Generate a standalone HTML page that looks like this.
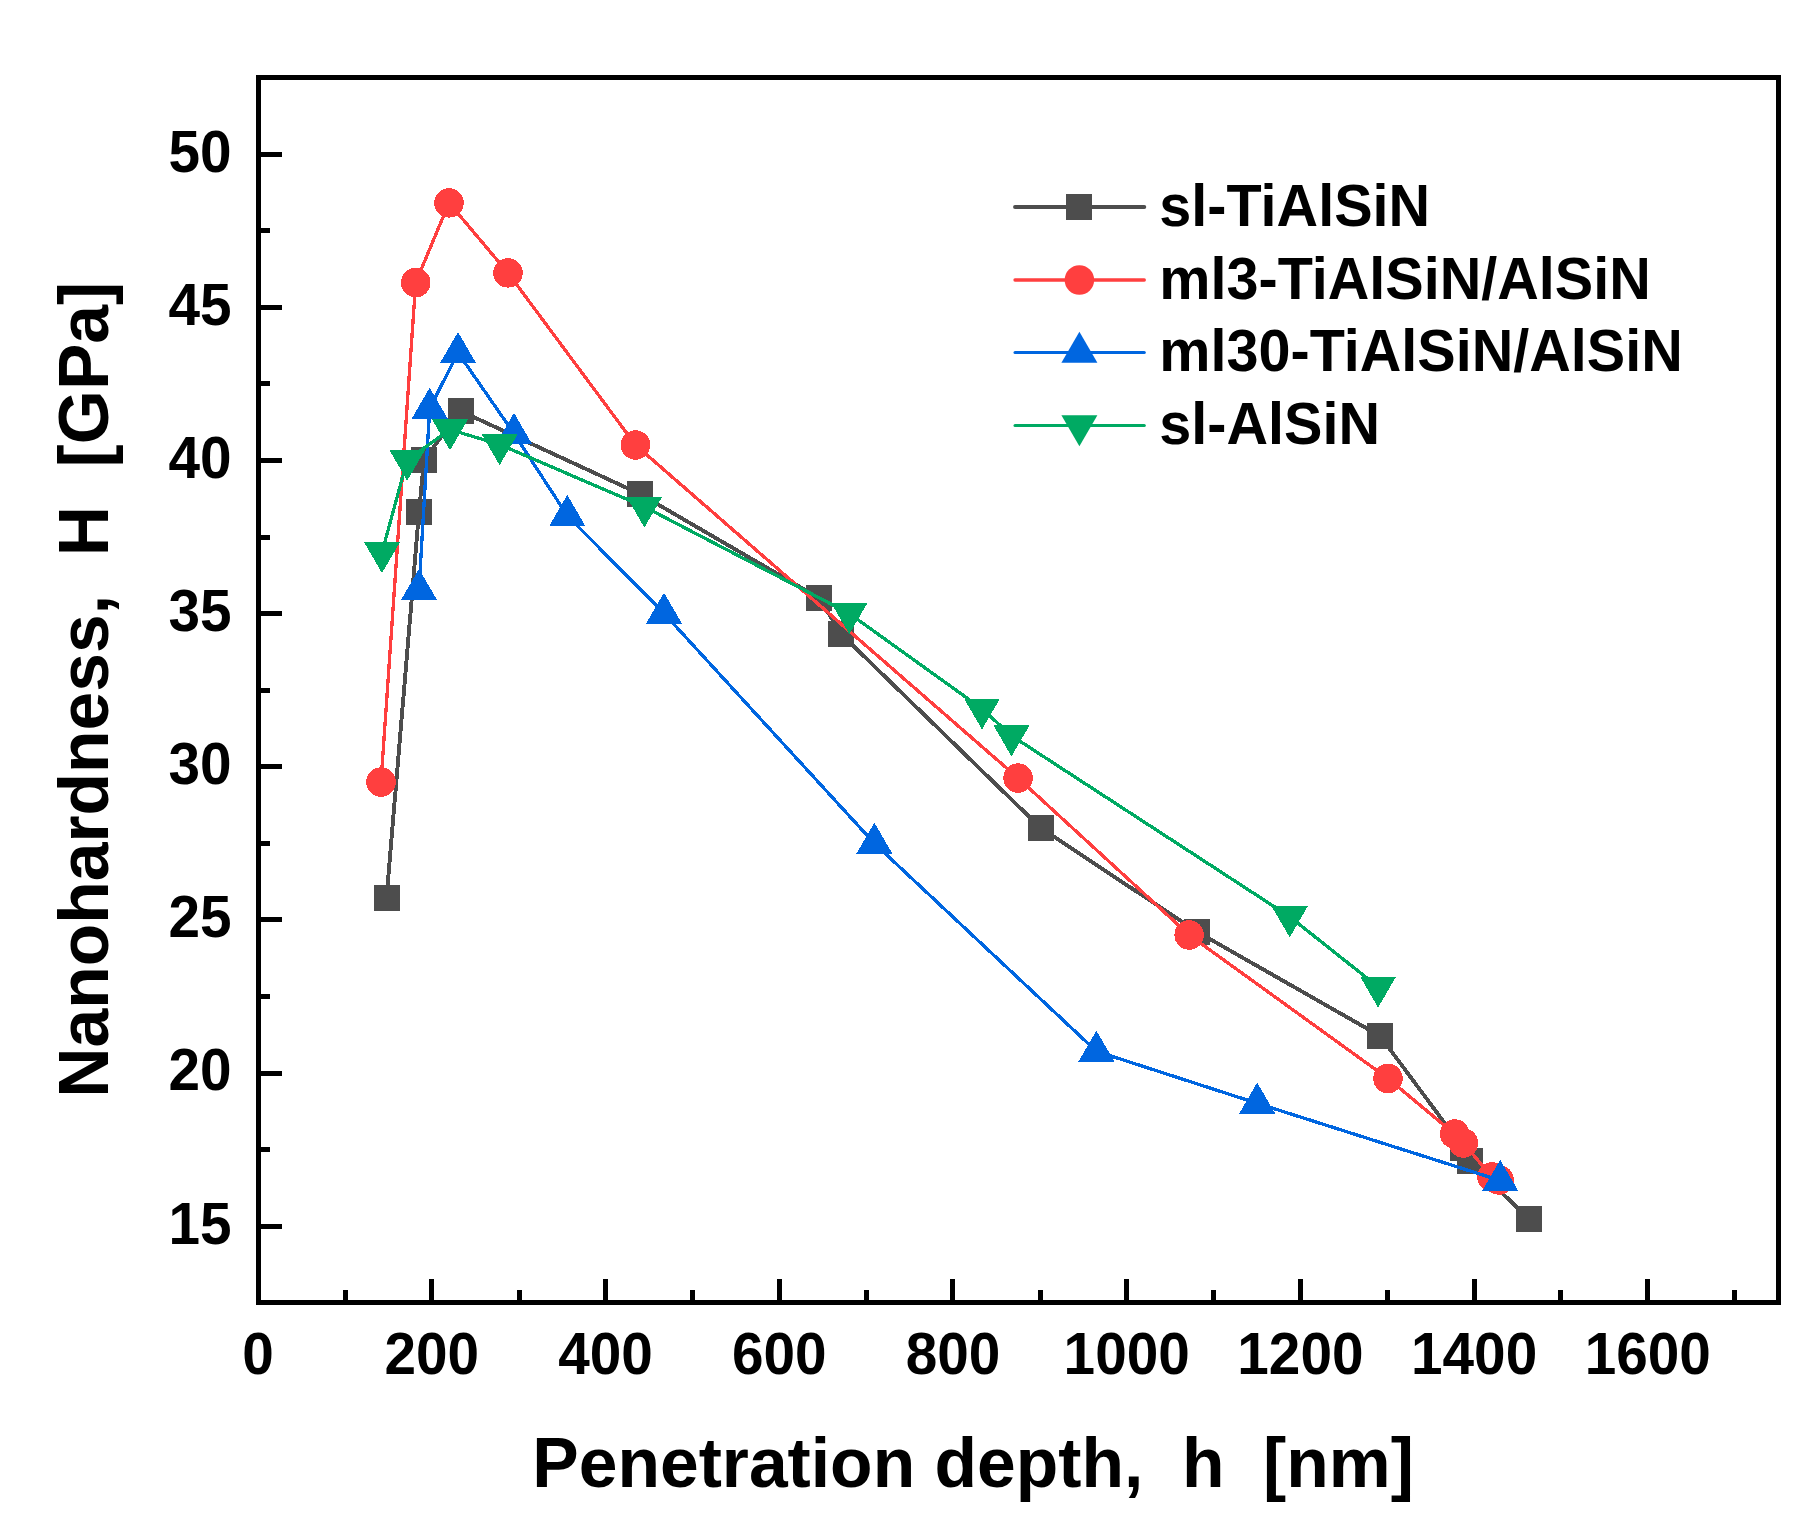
<!DOCTYPE html>
<html lang="en"><head><meta charset="utf-8"><title>Nanohardness vs penetration depth</title>
<style>
html,body{margin:0;padding:0;background:#fff;}
body{width:1817px;height:1522px;overflow:hidden;}
svg{display:block;}
text{font-family:"Liberation Sans",Arial,Helvetica,sans-serif;font-weight:bold;fill:#000;}
.tick{font-size:58px;}
.axl{font-size:70px;}
.leg{font-size:58px;}
</style></head><body>
<svg width="1817" height="1522" viewBox="0 0 1817 1522">
<rect x="0" y="0" width="1817" height="1522" fill="#fff"/>
<g id="series" shape-rendering="crispEdges">
<polyline fill="none" stroke="#4d4d4d" stroke-width="3.9" stroke-linejoin="round" stroke-linecap="round" points="386.5,898.0 419.0,512.4 424.0,460.0 460.5,411.0 640.0,494.0 819.0,598.0 841.5,634.4 1040.6,827.8 1197.5,932.0 1380.1,1036.0 1463.4,1148.3 1469.7,1161.2 1529.1,1219.4"/>
<rect x="374" y="885" width="26" height="26" fill="#4d4d4d"/>
<rect x="406" y="499" width="26" height="26" fill="#4d4d4d"/>
<rect x="411" y="447" width="26" height="26" fill="#4d4d4d"/>
<rect x="448" y="398" width="26" height="26" fill="#4d4d4d"/>
<rect x="627" y="481" width="26" height="26" fill="#4d4d4d"/>
<rect x="806" y="585" width="26" height="26" fill="#4d4d4d"/>
<rect x="828" y="621" width="26" height="26" fill="#4d4d4d"/>
<rect x="1028" y="815" width="26" height="26" fill="#4d4d4d"/>
<rect x="1184" y="919" width="26" height="26" fill="#4d4d4d"/>
<rect x="1367" y="1023" width="26" height="26" fill="#4d4d4d"/>
<rect x="1450" y="1135" width="26" height="26" fill="#4d4d4d"/>
<rect x="1457" y="1148" width="26" height="26" fill="#4d4d4d"/>
<rect x="1516" y="1206" width="26" height="26" fill="#4d4d4d"/>
<polyline fill="none" stroke="#ff3f3f" stroke-width="3.3" stroke-linejoin="round" stroke-linecap="round" points="381.0,782.1 415.7,282.6 449.0,202.9 508.0,272.9 635.5,445.0 1018.1,778.1 1189.2,935.0 1388.0,1078.5 1454.7,1134.0 1463.4,1143.0 1492.0,1177.0 1499.2,1180.0"/>
<circle cx="381.0" cy="782.1" r="14.75" fill="#ff3f3f"/>
<circle cx="415.7" cy="282.6" r="14.75" fill="#ff3f3f"/>
<circle cx="449.0" cy="202.9" r="14.75" fill="#ff3f3f"/>
<circle cx="508.0" cy="272.9" r="14.75" fill="#ff3f3f"/>
<circle cx="635.5" cy="445.0" r="14.75" fill="#ff3f3f"/>
<circle cx="1018.1" cy="778.1" r="14.75" fill="#ff3f3f"/>
<circle cx="1189.2" cy="935.0" r="14.75" fill="#ff3f3f"/>
<circle cx="1388.0" cy="1078.5" r="14.75" fill="#ff3f3f"/>
<circle cx="1454.7" cy="1134.0" r="14.75" fill="#ff3f3f"/>
<circle cx="1463.4" cy="1143.0" r="14.75" fill="#ff3f3f"/>
<circle cx="1492.0" cy="1177.0" r="14.75" fill="#ff3f3f"/>
<circle cx="1499.2" cy="1180.0" r="14.75" fill="#ff3f3f"/>
<polyline fill="none" stroke="#0066e0" stroke-width="3.3" stroke-linejoin="round" stroke-linecap="round" points="419.0,589.6 429.7,408.4 458.0,352.7 514.0,433.6 567.3,515.6 664.0,613.4 874.4,843.4 1096.4,1051.3 1257.2,1103.3 1500.2,1180.5"/>
<polygon points="419.0,568.9 401.0,599.9 437.0,599.9" fill="#0066e0"/>
<polygon points="429.7,387.7 411.7,418.7 447.7,418.7" fill="#0066e0"/>
<polygon points="458.0,332.0 440.0,363.0 476.0,363.0" fill="#0066e0"/>
<polygon points="514.0,412.9 496.0,443.9 532.0,443.9" fill="#0066e0"/>
<polygon points="567.3,494.9 549.3,525.9 585.3,525.9" fill="#0066e0"/>
<polygon points="664.0,592.7 646.0,623.7 682.0,623.7" fill="#0066e0"/>
<polygon points="874.4,822.7 856.4,853.7 892.4,853.7" fill="#0066e0"/>
<polygon points="1096.4,1030.6 1078.4,1061.6 1114.4,1061.6" fill="#0066e0"/>
<polygon points="1257.2,1082.6 1239.2,1113.6 1275.2,1113.6" fill="#0066e0"/>
<polygon points="1500.2,1159.8 1482.2,1190.8 1518.2,1190.8" fill="#0066e0"/>
<polyline fill="none" stroke="#00aa63" stroke-width="3.3" stroke-linejoin="round" stroke-linecap="round" points="382.0,552.4 407.2,460.0 450.0,429.6 499.6,444.5 644.4,506.8 849.3,613.5 982.0,708.8 1011.5,735.7 1289.7,916.7 1378.1,986.9"/>
<polygon points="382.0,573.1 364.0,542.1 400.0,542.1" fill="#00aa63"/>
<polygon points="407.2,480.7 389.2,449.7 425.2,449.7" fill="#00aa63"/>
<polygon points="450.0,450.3 432.0,419.3 468.0,419.3" fill="#00aa63"/>
<polygon points="499.6,465.2 481.6,434.2 517.6,434.2" fill="#00aa63"/>
<polygon points="644.4,527.5 626.4,496.5 662.4,496.5" fill="#00aa63"/>
<polygon points="849.3,634.2 831.3,603.2 867.3,603.2" fill="#00aa63"/>
<polygon points="982.0,729.5 964.0,698.5 1000.0,698.5" fill="#00aa63"/>
<polygon points="1011.5,756.4 993.5,725.4 1029.5,725.4" fill="#00aa63"/>
<polygon points="1289.7,937.4 1271.7,906.4 1307.7,906.4" fill="#00aa63"/>
<polygon points="1378.1,1007.6 1360.1,976.6 1396.1,976.6" fill="#00aa63"/>
</g>
<g id="axes" fill="#000" shape-rendering="crispEdges">
<path d="M256 75H1781V1305H256Z M261 80V1300H1776V80Z" fill-rule="evenodd"/>
<rect x="343.0" y="1290" width="5" height="11"/><rect x="429.0" y="1279" width="5" height="22"/><rect x="517.0" y="1290" width="5" height="11"/><rect x="603.0" y="1279" width="5" height="22"/><rect x="690.0" y="1290" width="5" height="11"/><rect x="777.0" y="1279" width="5" height="22"/><rect x="864.0" y="1290" width="5" height="11"/><rect x="950.0" y="1279" width="5" height="22"/><rect x="1038.0" y="1290" width="5" height="11"/><rect x="1124.0" y="1279" width="5" height="22"/><rect x="1211.0" y="1290" width="5" height="11"/><rect x="1298.0" y="1279" width="5" height="22"/><rect x="1385.0" y="1290" width="5" height="11"/><rect x="1472.0" y="1279" width="5" height="22"/><rect x="1558.0" y="1290" width="5" height="11"/><rect x="1645.0" y="1279" width="5" height="22"/><rect x="1732.0" y="1290" width="5" height="11"/>
<rect x="260" y="1224.0" width="22" height="5"/><rect x="260" y="1147.0" width="10" height="5"/><rect x="260" y="1071.0" width="22" height="5"/><rect x="260" y="994.0" width="10" height="5"/><rect x="260" y="917.0" width="22" height="5"/><rect x="260" y="841.0" width="10" height="5"/><rect x="260" y="764.0" width="22" height="5"/><rect x="260" y="688.0" width="10" height="5"/><rect x="260" y="611.0" width="22" height="5"/><rect x="260" y="535.0" width="10" height="5"/><rect x="260" y="458.0" width="22" height="5"/><rect x="260" y="381.0" width="10" height="5"/><rect x="260" y="305.0" width="22" height="5"/><rect x="260" y="228.0" width="10" height="5"/><rect x="260" y="152.0" width="22" height="5"/>
</g>
<g id="xticklabels" class="tick" text-anchor="middle">
<text transform="translate(258.1,1374) scale(0.978,1.03)">0</text><text transform="translate(431.8,1374) scale(0.978,1.03)">200</text><text transform="translate(605.5,1374) scale(0.978,1.03)">400</text><text transform="translate(779.2,1374) scale(0.978,1.03)">600</text><text transform="translate(953.0,1374) scale(0.978,1.03)">800</text><text transform="translate(1126.7,1374) scale(0.978,1.03)">1000</text><text transform="translate(1300.4,1374) scale(0.978,1.03)">1200</text><text transform="translate(1474.1,1374) scale(0.978,1.03)">1400</text><text transform="translate(1647.8,1374) scale(0.978,1.03)">1600</text>
</g>
<g id="yticklabels" class="tick" text-anchor="end">
<text transform="translate(231.5,1243.5) scale(0.978,1.03)">15</text><text transform="translate(231.5,1090.4) scale(0.978,1.03)">20</text><text transform="translate(231.5,937.2) scale(0.978,1.03)">25</text><text transform="translate(231.5,784.1) scale(0.978,1.03)">30</text><text transform="translate(231.5,630.9) scale(0.978,1.03)">35</text><text transform="translate(231.5,477.8) scale(0.978,1.03)">40</text><text transform="translate(231.5,324.6) scale(0.978,1.03)">45</text><text transform="translate(231.5,171.5) scale(0.978,1.03)">50</text>
</g>
<text class="axl" transform="translate(532.3,1487) scale(0.9943,1.012)" xml:space="preserve" style="white-space:pre">Penetration depth,  h  [nm]</text>
<text class="axl" transform="translate(108,1097.8) rotate(-90) scale(0.9943,1.012)" xml:space="preserve" style="white-space:pre">Nanohardness,  H  [GPa]</text>
<g id="legend">
<line x1="1015" y1="207.0" x2="1144.3" y2="207.0" stroke="#4d4d4d" stroke-width="3.9" stroke-linecap="round"/><rect x="1066" y="194" width="26" height="26" fill="#4d4d4d"/><text class="leg" transform="translate(1159.3,225.8) scale(0.9925,1.03)">sl-TiAlSiN</text>
<line x1="1015" y1="280.0" x2="1144.3" y2="280.0" stroke="#ff3f3f" stroke-width="3.3" stroke-linecap="round"/><circle cx="1079.4" cy="280.0" r="14.75" fill="#ff3f3f"/><text class="leg" transform="translate(1159.3,298.8) scale(0.9925,1.03)">ml3-TiAlSiN/AlSiN</text>
<line x1="1015" y1="352.5" x2="1144.3" y2="352.5" stroke="#0066e0" stroke-width="3.0" stroke-linecap="round"/><polygon points="1079.4,331.8 1061.4,362.8 1097.4,362.8" fill="#0066e0"/><text class="leg" transform="translate(1159.3,371.3) scale(0.9925,1.03)">ml30-TiAlSiN/AlSiN</text>
<line x1="1015" y1="425.5" x2="1144.3" y2="425.5" stroke="#00aa63" stroke-width="3.0" stroke-linecap="round"/><polygon points="1079.4,446.2 1061.4,415.2 1097.4,415.2" fill="#00aa63"/><text class="leg" transform="translate(1159.3,444.3) scale(0.9925,1.03)">sl-AlSiN</text>
</g>
</svg>
</body></html>
